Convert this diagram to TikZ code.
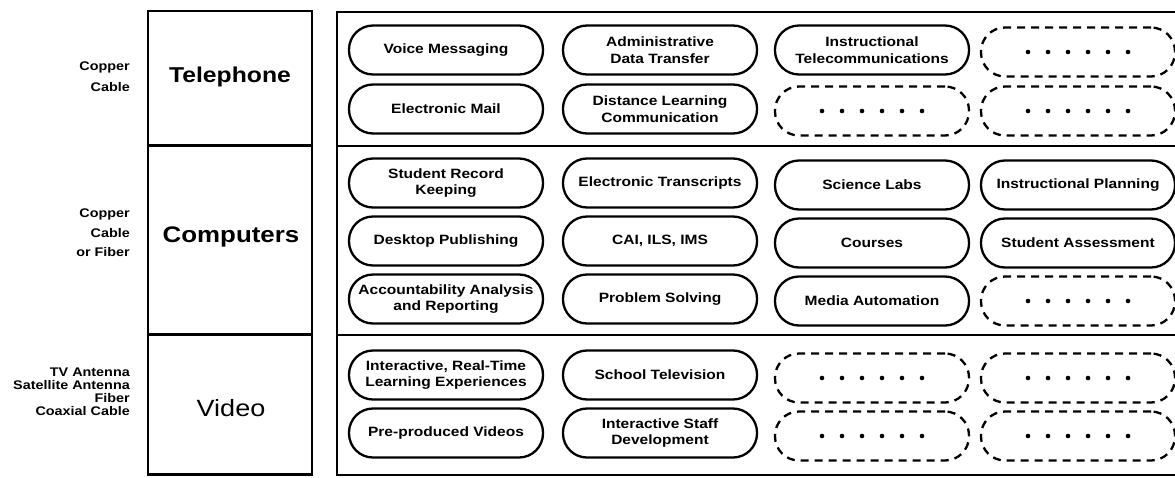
\documentclass[tikz,border=0pt]{standalone}
\usepackage{fontspec}
\setmainfont[FakeStretch=1.15]{Liberation Sans}
\newcommand\pilltxt{\fontsize{13.5}{16.5}\selectfont\bfseries}
\newcommand\medialbl{\fontsize{12.5}{13}\selectfont\bfseries}
\begin{document}
\begin{tikzpicture}[x=1pt,y=-1pt,
  frame/.style={draw, line width=2.6pt},
  catbox/.style={draw, line width=2.6pt, minimum width=164pt, inner sep=0pt},
  pill/.style={draw, line width=2.3pt, rounded corners=24pt, minimum width=194pt,
    minimum height=49pt, align=center, inner sep=0pt, font=\pilltxt},
  blank/.style={pill, dash pattern=on 8pt off 6pt},
  media/.style={anchor=east, align=right, font=\medialbl, inner sep=0pt}]
\useasboundingbox (0,0) rectangle (1175,477);

% category column
\node[catbox, minimum height=134pt] (tel) at (230,78) {};
\node[catbox, minimum height=189pt] (comp) at (230,240) {};
\node[catbox, minimum height=140pt] (vid) at (230,404.5) {};
\node[font=\fontsize{21.5}{24}\selectfont\bfseries] (telT) at (230,77) {Telephone};
\node[font=\fontsize{22.5}{24}\selectfont\bfseries] (compT) at (231,237) {Computers};
\node[font=\fontsize{23.5}{24}\selectfont] (vidT) at (231,408) {Video};

% media labels
\node[media, font=\fontsize{12.5}{21}\selectfont\bfseries] (telM) at (130,77) {Copper\\Cable};
\node[media, font=\fontsize{12.5}{19.5}\selectfont\bfseries] (compM) at (130,233) {Copper\\Cable\\or Fiber};
\node[media] (vidM) at (130,392) {TV Antenna\\Satellite Antenna\\Fiber\\Coaxial Cable};

% applications frame
\draw[frame] (1176,12) -- (337,12) -- (337,475) -- (1176,475);
\draw[frame] (337,146) -- (1176,146);
\draw[frame] (337,335) -- (1176,335);

% Telephone
\node[pill] (t11) at (446,50) {Voice Messaging};
\node[pill] (t12) at (660,50) {Administrative\\Data Transfer};
\node[pill] (t13) at (872,50) {Instructional\\Telecommunications};
\node[blank] (t14) at (1078,52) {};
\node[pill] (t21) at (446,109) {Electronic Mail};
\node[pill] (t22) at (660,109) {Distance Learning\\Communication};
\node[blank] (t23) at (872,111) {};
\node[blank] (t24) at (1078,111) {};

% Computers
\node[pill] (c11) at (446,183) {Student Record\\Keeping};
\node[pill] (c12) at (660,183) {Electronic Transcripts};
\node[pill] (c13) at (872,185) {Science Labs};
\node[pill] (c14) at (1078,185) {Instructional Planning};
\node[pill] (c21) at (446,241) {Desktop Publishing};
\node[pill] (c22) at (660,241) {CAI, ILS, IMS};
\node[pill] (c23) at (872,243) {Courses};
\node[pill] (c24) at (1078,243) {Student Assessment};
\node[pill] (c31) at (446,299) {Accountability Analysis\\and Reporting};
\node[pill] (c32) at (660,299) {Problem Solving};
\node[pill] (c33) at (872,301) {Media Automation};
\node[blank] (c34) at (1078,301) {};

% Video
\node[pill] (v11) at (446,375) {Interactive, Real-Time\\Learning Experiences};
\node[pill] (v12) at (660,375) {School Television};
\node[blank] (v13) at (872,378) {};
\node[blank] (v14) at (1078,378) {};
\node[pill] (v21) at (446,433) {Pre-produced Videos};
\node[pill] (v22) at (660,433) {Interactive Staff\\Development};
\node[blank] (v23) at (872,436) {};
\node[blank] (v24) at (1078,436) {};

% dots in blank slots
\foreach \n in {t14,t23,t24,c34,v13,v14,v23,v24}
  \foreach \d in {-50,-30,...,50}
    \fill (\n.center) ++(\d,0) circle (2.3pt);
\end{tikzpicture}
\end{document}
